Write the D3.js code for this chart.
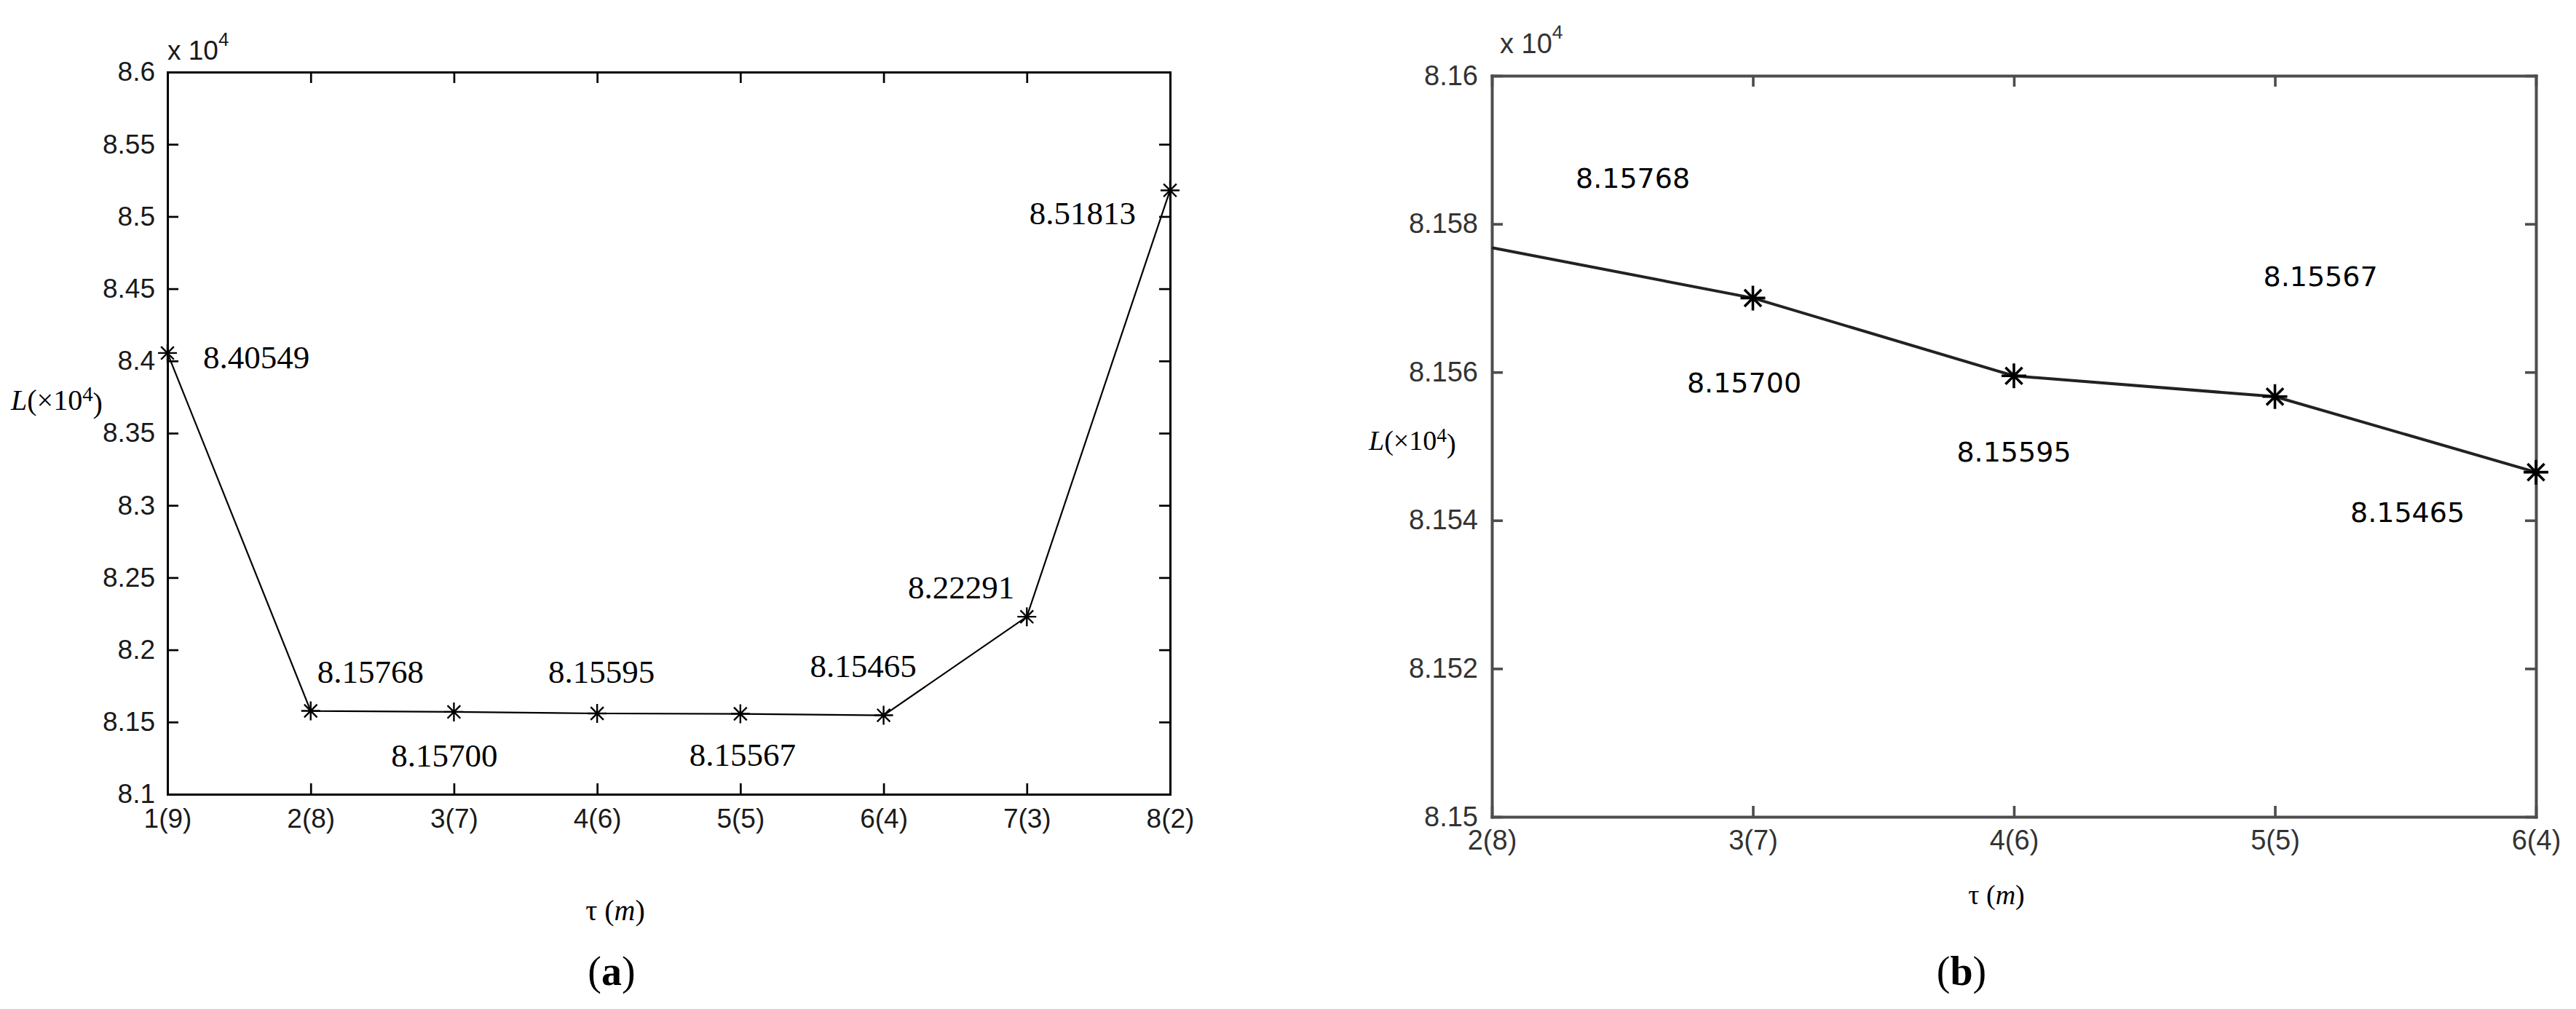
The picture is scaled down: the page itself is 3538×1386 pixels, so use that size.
<!DOCTYPE html>
<html>
<head>
<meta charset="utf-8">
<script src="https://cdn.jsdelivr.net/npm/d3@7"></script>
<style>
  body { margin: 0; background: #fff; }
  svg { display: block; }
</style>
</head>
<body>
<svg id="chart" width="3538" height="1386"></svg>
<script>
// data (values in units of 10^4)
var categoriesA = ["1(9)", "2(8)", "3(7)", "4(6)", "5(5)", "6(4)", "7(3)", "8(2)"];
var valuesA = [8.40549, 8.15768, 8.15700, 8.15595, 8.15567, 8.15465, 8.22291, 8.51813];
var ticksA = [8.1, 8.15, 8.2, 8.25, 8.3, 8.35, 8.4, 8.45, 8.5, 8.55, 8.6];

var categoriesB = ["2(8)", "3(7)", "4(6)", "5(5)", "6(4)"];
var valuesB = [8.15768, 8.15700, 8.15595, 8.15567, 8.15465];
var ticksB = [8.15, 8.152, 8.154, 8.156, 8.158, 8.16];

// where each value label sits relative to its point: [dx, dy, anchor]
var labelOffsetA = [[49, 21, "start"], [9, -39, "start"], [-13, 75, "middle"], [6, -42, "middle"],
                    [3, 71, "middle"], [-28, -53, "middle"], [-17, -25, "end"], [-47, 47, "end"]];
var labelOffsetB = [[115, -82, "start"], [-12, 130, "middle"], [0, 118, "middle"],
                    [-16, -152, "start"], [-255, 68, "start"]];

var svg = d3.select("#chart");
var fmt = function(d) { return String(+d.toFixed(3)); };

// MATLAB style '*' marker: plus + cross
function starPath(r) {
  var d = r * 0.68;
  return "M" + (-r) + ",0H" + r + "M0," + (-r) + "V" + r +
         "M" + (-d) + "," + (-d) + "L" + d + "," + d +
         "M" + (-d) + "," + d + "L" + d + "," + (-d);
}

function drawPanel(opt) {
  var x = d3.scalePoint().domain(opt.categories).range([opt.left, opt.right]).padding(0);
  var y = d3.scaleLinear().domain([opt.ticks[0], opt.ticks[opt.ticks.length - 1]])
      .range([opt.bottom, opt.top]);

  var g = svg.append("g");

  // box with inward ticks on all four sides
  var axes = [
    {ax: d3.axisBottom(x).tickPadding(opt.xPad), t: "translate(0," + opt.bottom + ")"},
    {ax: d3.axisTop(x).tickFormat(""), t: "translate(0," + opt.top + ")"},
    {ax: d3.axisLeft(y).tickValues(opt.ticks).tickFormat(fmt).tickPadding(opt.yPad), t: "translate(" + opt.left + ",0)"},
    {ax: d3.axisRight(y).tickValues(opt.ticks).tickFormat(""), t: "translate(" + opt.right + ",0)"}
  ];
  axes.forEach(function(a) {
    var ag = g.append("g")
        .attr("transform", a.t)
        .call(a.ax.tickSizeInner(-opt.tickLen).tickSizeOuter(0));
    ag.select(".domain").attr("stroke", opt.axisColor).attr("stroke-width", opt.axisWidth)
        .attr("stroke-linecap", "square");
    ag.selectAll(".tick line").attr("stroke", opt.axisColor).attr("stroke-width", opt.axisWidth * 0.9);
    ag.selectAll(".tick text")
        .attr("font-family", "'Liberation Sans', Arial, sans-serif")
        .attr("font-size", opt.tickFont + "px")
        .attr("fill", opt.textColor);
  });

  // exponent marker above the y axis
  var ex = g.append("text")
      .attr("x", opt.left + opt.expDx).attr("y", opt.top - opt.expDy)
      .attr("font-family", "'Liberation Sans', Arial, sans-serif")
      .attr("font-size", opt.tickFont + "px")
      .attr("fill", opt.textColor);
  ex.append("tspan").text("x 10");
  ex.append("tspan").attr("dy", "-0.75em").attr("font-size", (opt.tickFont * 0.7) + "px").text("4");

  var pts = opt.values.map(function(v, i) { return [x(opt.categories[i]), y(v)]; });

  g.append("path")
      .attr("d", d3.line()(pts))
      .attr("fill", "none")
      .attr("stroke", opt.lineColor)
      .attr("stroke-width", opt.lineWidth);

  g.selectAll(".star")
      .data(pts.filter(function(p, i) { return i >= opt.firstStar; }))
      .enter()
      .append("path")
        .attr("class", "star")
        .attr("transform", function(p) { return "translate(" + p[0] + "," + p[1] + ")"; })
        .attr("d", starPath(opt.starR))
        .attr("fill", "none")
        .attr("stroke", "#000")
        .attr("stroke-width", opt.starWidth);

  g.selectAll(".vlabel")
      .data(opt.values)
      .enter()
      .append("text")
        .attr("class", "vlabel")
        .attr("x", function(d, i) { return pts[i][0] + opt.offsets[i][0]; })
        .attr("y", function(d, i) { return pts[i][1] + opt.offsets[i][1]; })
        .attr("text-anchor", function(d, i) { return opt.offsets[i][2]; })
        .attr("font-family", opt.labelFamily)
        .attr("font-size", opt.labelFont + "px")
        .attr("fill", "#000")
        .text(function(d) { return d.toFixed(5); });

  // y axis title L(x10^4)
  var yt = g.append("text")
      .attr("x", opt.yTitleX).attr("y", opt.yTitleY)
      .attr("font-family", "'Liberation Serif', 'Times New Roman', serif")
      .attr("font-size", opt.titleFont + "px")
      .attr("fill", "#000");
  yt.append("tspan").attr("font-style", "italic").text("L");
  yt.append("tspan").text("(\u00d710");
  yt.append("tspan").attr("dy", "-0.4em").attr("font-size", (opt.titleFont * 0.72) + "px").text("4");
  yt.append("tspan").attr("dy", "0.4em").text(")");

  // x axis title tau (m)
  var xt = g.append("text")
      .attr("x", opt.xTitleX).attr("y", opt.xTitleY)
      .attr("text-anchor", "middle")
      .attr("font-family", "'Liberation Serif', 'Times New Roman', serif")
      .attr("font-size", opt.titleFont + "px")
      .attr("fill", "#000");
  xt.append("tspan").text("\u03c4 (");
  xt.append("tspan").attr("font-style", "italic").text("m");
  xt.append("tspan").text(")");

  // panel letter
  var pl = g.append("text")
      .attr("x", opt.letterX).attr("y", opt.letterY)
      .attr("text-anchor", "middle")
      .attr("font-family", "'Liberation Serif', 'Times New Roman', serif")
      .attr("font-size", "56px")
      .attr("fill", "#000");
  pl.append("tspan").text("(");
  pl.append("tspan").attr("font-weight", "bold").text(opt.letter);
  pl.append("tspan").text(")");
}

drawPanel({
  categories: categoriesA, values: valuesA, ticks: ticksA, offsets: labelOffsetA,
  left: 230, right: 1607, top: 99, bottom: 1091,
  tickLen: 15, xPad: 20, yPad: 17, tickFont: 37,
  axisColor: "#000", axisWidth: 3, textColor: "#1a1a1a",
  expDx: 0, expDy: 17,
  lineColor: "#000", lineWidth: 2.2, firstStar: 0, starR: 13, starWidth: 2.4,
  labelFamily: "'Liberation Serif', 'Times New Roman', serif", labelFont: 45,
  yTitleX: 15, yTitleY: 563, titleFont: 40,
  xTitleX: 845, xTitleY: 1264,
  letter: "a", letterX: 840, letterY: 1353
});

drawPanel({
  categories: categoriesB, values: valuesB, ticks: ticksB, offsets: labelOffsetB,
  left: 2049, right: 3483, top: 104, bottom: 1122,
  tickLen: 15, xPad: 18, yPad: 19, tickFont: 38,
  axisColor: "#4d4d4d", axisWidth: 4, textColor: "#333",
  expDx: 11, expDy: 31,
  lineColor: "#222", lineWidth: 4, firstStar: 1, starR: 17, starWidth: 3.6,
  labelFamily: "'DejaVu Sans', Verdana, sans-serif", labelFont: 38,
  yTitleX: 1880, yTitleY: 618, titleFont: 38,
  xTitleX: 2742, xTitleY: 1242,
  letter: "b", letterX: 2694, letterY: 1353
});
</script>
</body>
</html>
